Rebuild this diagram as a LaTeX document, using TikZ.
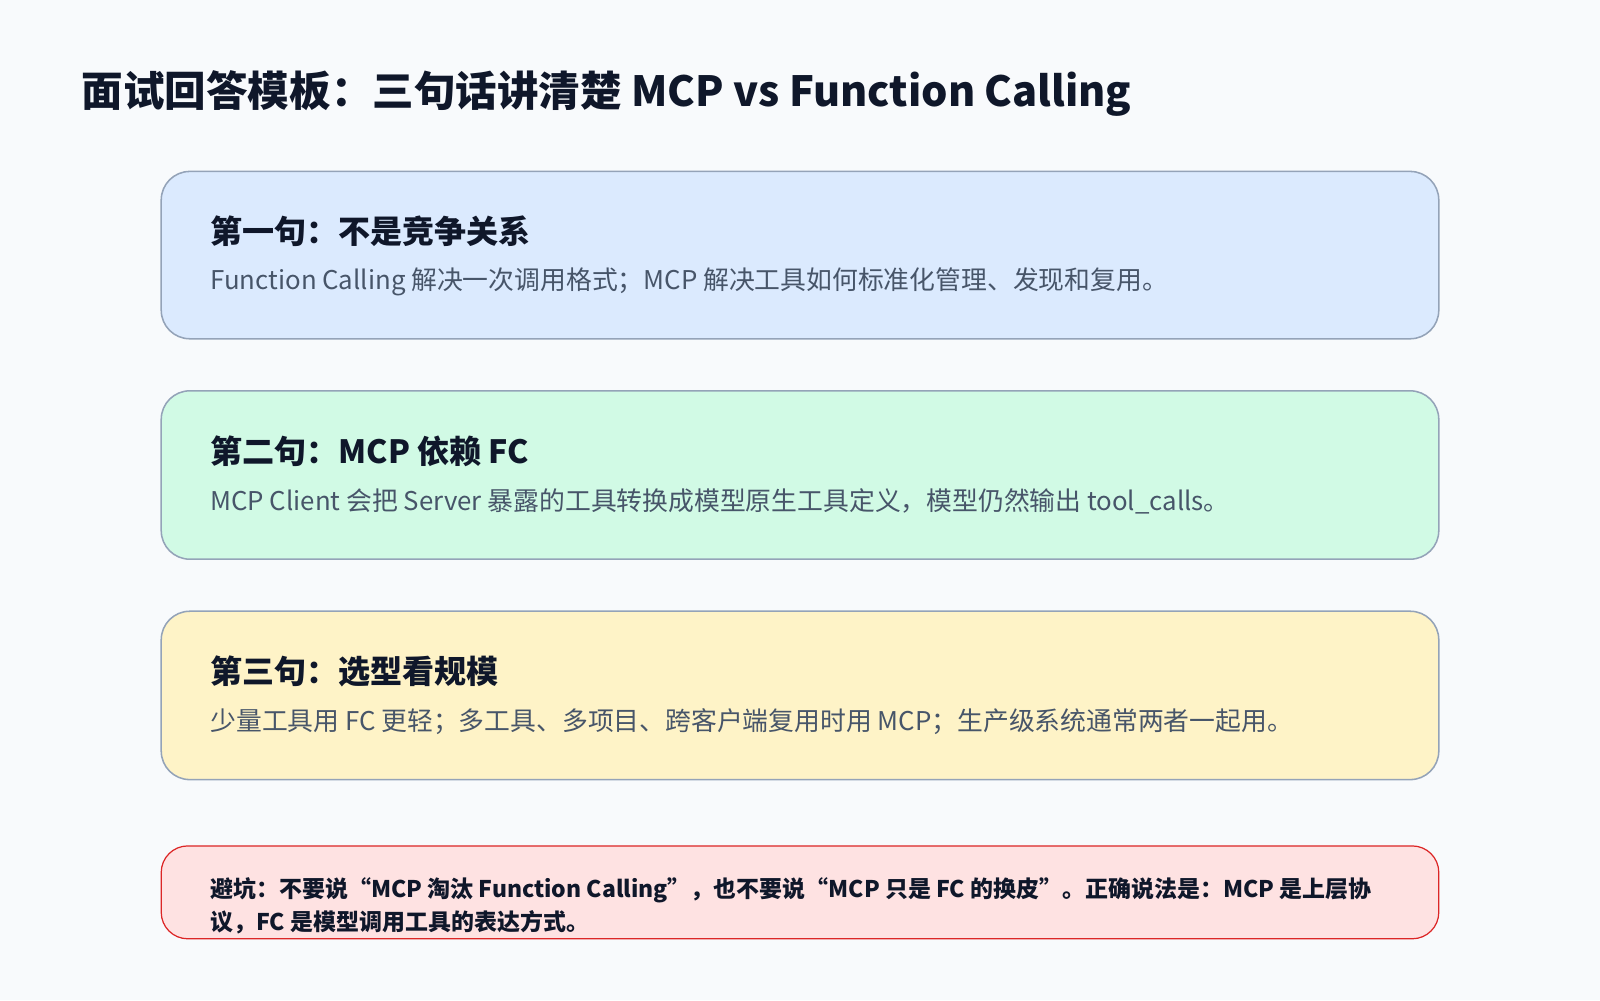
\documentclass[tikz,border=0pt]{standalone}
\usepackage{fontspec}
\setmainfont{Noto Sans CJK SC}
\definecolor{bg}{HTML}{F8FAFC}
\definecolor{bord}{HTML}{94A3B8}
\definecolor{fa}{HTML}{DBEAFE}
\definecolor{fb}{HTML}{D1FAE5}
\definecolor{fc}{HTML}{FEF3C7}
\definecolor{fd}{HTML}{FEE2E2}
\definecolor{rd}{HTML}{DC2626}
\definecolor{dark}{HTML}{0F172A}
\definecolor{gry}{HTML}{475569}
\begin{document}
\begin{tikzpicture}[x=1pt,y=-1pt,
 card/.style={draw=bord,line width=1.5pt,rounded corners=28pt},
 head/.style={anchor=west,inner sep=0,text=dark,font=\fontsize{31.4}{36}\selectfont\bfseries},
 body/.style={anchor=west,inner sep=0,text=gry,font=\fontsize{25.3}{30}\selectfont}]
\fill[bg] (0,0) rectangle (1568,980);
\useasboundingbox (0,0) rectangle (1568,980);
\node[anchor=west,inner sep=0,text=dark,font=\fontsize{40.7}{50}\selectfont\bfseries] (title) at (80,92) {面试回答模板：三句话讲清楚 MCP vs Function Calling};
\draw[card,fill=fa] (158,168) rectangle (1410,332);
\node[head] (h1) at (206,227) {第一句：不是竞争关系};
\node[body] (b1) at (206,276) {Function Calling 解决一次调用格式；MCP 解决工具如何标准化管理、发现和复用。};
\draw[card,fill=fb] (158,383) rectangle (1410,548);
\node[head] (h2) at (206,442) {第二句：MCP 依赖 FC};
\node[body] (b2) at (206,491) {MCP Client 会把 Server 暴露的工具转换成模型原生工具定义，模型仍然输出 tool\_calls。};
\draw[card,fill=fc] (158,599) rectangle (1410,764);
\node[head] (h3) at (206,658) {第三句：选型看规模};
\node[body] (b3) at (206,707) {少量工具用 FC 更轻；多工具、多项目、跨客户端复用时用 MCP；生产级系统通常两者一起用。};
\draw[draw=rd,line width=1.2pt,fill=fd,rounded corners=26pt] (158,829) rectangle (1410,920);
\node[anchor=north west,inner sep=0,text=dark,align=left,font=\fontsize{22.5}{32}\selectfont\bfseries] (w) at (206,860) {避坑：不要说“MCP 淘汰 Function Calling”，也不要说“MCP 只是 FC 的换皮”。正确说法是：MCP 是上层协\\议，FC 是模型调用工具的表达方式。};
\end{tikzpicture}
\end{document}
